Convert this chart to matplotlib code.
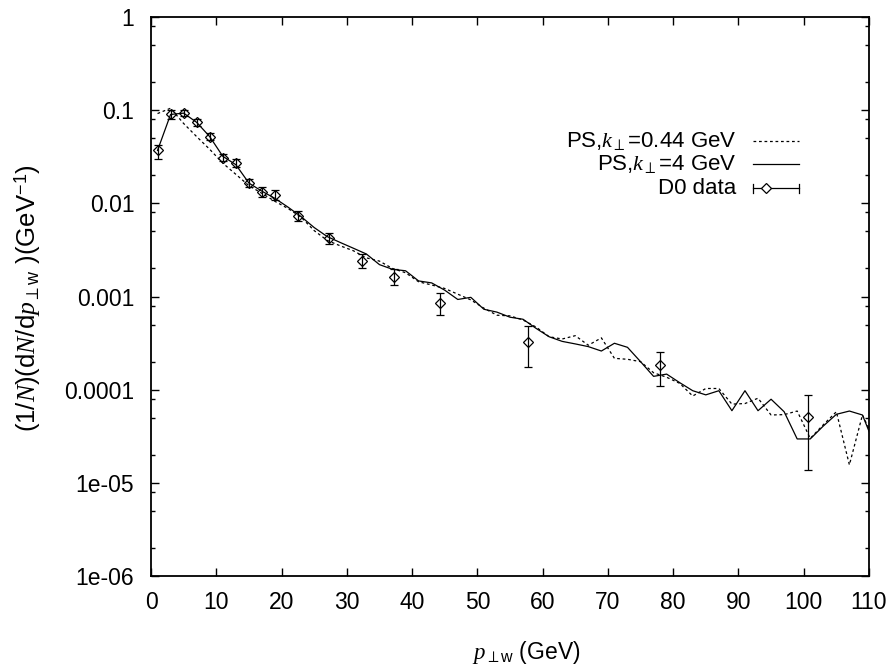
"""
W transverse momentum spectrum: parton shower predictions for two
values of the intrinsic k_perp compared with D0 data.
"""
import matplotlib
matplotlib.use('Agg')
import matplotlib.pyplot as plt
from matplotlib.ticker import LogLocator, NullFormatter
import numpy as np

plt.rcParams['font.family'] = ['Liberation Sans', 'DejaVu Sans']
plt.rcParams['mathtext.fontset'] = 'custom'
plt.rcParams['mathtext.rm'] = 'Liberation Sans'
plt.rcParams['mathtext.it'] = 'Liberation Serif:italic'
plt.rcParams['mathtext.fallback'] = 'cm'

# bin centres of the shower histograms (2 GeV bins)
pt_ps = np.arange(1, 112, 2)

# PS, k_perp = 4 GeV (solid)
ps_kt4 = [0.037, 0.090, 0.093, 0.074, 0.052, 0.032, 0.026, 0.0165, 0.0135, 0.0113,
          0.0091, 0.0072, 0.0055, 0.0044, 0.0038, 0.0033, 0.00286, 0.0022, 0.00196, 0.00189,
          0.00147, 0.0014, 0.00117, 0.00093, 0.00098, 0.00073, 0.00068, 0.0006, 0.00057, 0.000455,
          0.00037, 0.00033, 0.00031, 0.00029, 0.00026, 0.000315, 0.000285, 0.0002, 0.000139, 0.000147,
          0.000119, 9.75e-5, 8.8e-5, 9.75e-5, 5.95e-5, 9.75e-5, 5.95e-5, 7.9e-5, 5.8e-5, 2.96e-5,
          2.96e-5, 4.07e-5, 5.44e-5, 5.9e-5, 5.35e-5, 2.4e-5]

# PS, k_perp = 0.44 GeV (dotted)
ps_kt044 = [0.092, 0.105, 0.072, 0.052, 0.038, 0.027, 0.0205, 0.0155, 0.0128, 0.0105,
            0.0088, 0.0071, 0.0051, 0.0040, 0.0035, 0.0031, 0.0026, 0.0024, 0.0020, 0.0018,
            0.00144, 0.00133, 0.00122, 0.00106, 0.00092, 0.00075, 0.00063, 0.00062, 0.00056, 0.00047,
            0.00037, 0.00035, 0.00038, 0.00030, 0.00036, 0.000217, 0.000212, 0.0002, 0.000152, 0.000136,
            0.000117, 8.55e-5, 0.000103, 0.000103, 7.0e-5, 7.1e-5, 8.1e-5, 5.35e-5, 5.4e-5, 5.9e-5,
            3.0e-5, 4.2e-5, 5.8e-5, 1.56e-5, 5.35e-5, 2.7e-5]

# D0 data
pt_d0 = [1, 3, 5, 7, 9, 11, 13, 15, 17, 19, 22.5, 27.3, 32.3, 37.2, 44.2, 57.7, 78.0, 100.7]
d0 = [0.037, 0.090, 0.093, 0.074, 0.052, 0.031, 0.027, 0.0164, 0.0133, 0.0123,
      0.0073, 0.0042, 0.0024, 0.00163, 0.00086, 0.000327, 0.000183, 5.1e-5]
d0_lo = [0.030, 0.0805, 0.087, 0.0682, 0.0474, 0.0282, 0.0245, 0.0149, 0.0118, 0.0109,
         0.0065, 0.0037, 0.0020, 0.00132, 0.000634, 0.000174, 0.000109, 1.37e-5]
d0_hi = [0.0427, 0.1006, 0.0994, 0.0803, 0.057, 0.0341, 0.0298, 0.0181, 0.0150, 0.0139,
         0.0082, 0.0048, 0.00286, 0.00196, 0.00108, 0.000482, 0.000256, 8.8e-5]

ytick_vals = [1e-6, 1e-5, 1e-4, 1e-3, 1e-2, 1e-1, 1]
ytick_labels = ['1e-06', '1e-05', '0.0001', '0.001', '0.01', '0.1', '1']

fig = plt.figure(figsize=(8.93, 6.68), dpi=100)
ax = fig.add_axes([0.1691, 0.1377, 0.804, 0.8368])

ax.plot(pt_ps, ps_kt044, color='k', lw=0.9, ls=(0, (2.2, 2.2)))
ax.plot(pt_ps, ps_kt4, color='k', lw=0.9)
err = [np.array(d0) - np.array(d0_lo), np.array(d0_hi) - np.array(d0)]
ax.errorbar(pt_d0, d0, yerr=err, fmt='D', ms=5.5, mfc='none', mec='k', mew=0.9,
            ecolor='k', elinewidth=0.9, capsize=3, capthick=0.9)

ax.set_yscale('log')
ax.set_xlim(0, 110)
ax.set_ylim(1e-6, 1)
ax.set_xticks(range(0, 111, 10))
ax.set_yticks(ytick_vals, ytick_labels)
ax.yaxis.set_minor_locator(LogLocator(base=10, subs=[2, 5, 8]))
ax.yaxis.set_minor_formatter(NullFormatter())
ax.tick_params(which='both', direction='in', top=True, right=True, labelsize=16.5)
ax.tick_params(which='major', length=5.5, width=1)
ax.tick_params(which='minor', length=3, width=1)
ax.tick_params(axis='x', pad=11)
ax.tick_params(axis='y', pad=12)
for s in ax.spines.values():
    s.set_linewidth(1.3)

# gnuplot-style key: text right-aligned, sample to the right
key_rows = [r'PS,$k_{\perp}$=0.44 GeV', r'PS,$k_{\perp}$=4 GeV', 'D0 data']
key_y = [0.779, 0.737, 0.694]
tr = ax.transAxes
for label, yk in zip(key_rows, key_y):
    ax.text(0.815, yk, label, transform=tr, ha='right', va='center', fontsize=16)
ax.plot([0.838, 0.903], [key_y[0]] * 2, transform=tr, color='k', lw=0.9, ls=(0, (2.2, 2.2)))
ax.plot([0.838, 0.903], [key_y[1]] * 2, transform=tr, color='k', lw=0.9)
ax.plot([0.838, 0.903], [key_y[2]] * 2, transform=tr, color='k', lw=0.9)
ax.plot([0.838, 0.838], [key_y[2] - 0.008, key_y[2] + 0.008], transform=tr, color='k', lw=0.9)
ax.plot([0.903, 0.903], [key_y[2] - 0.008, key_y[2] + 0.008], transform=tr, color='k', lw=0.9)
ax.plot([0.857], [key_y[2]], transform=tr, marker='D', ms=5, mfc='white', mec='k', mew=0.9)

fig.text(526 / 893, 1 - 652 / 668, r'$p_{\perp\mathrm{w}}$ (GeV)', ha='center', va='center', fontsize=16.5)
fig.text(28 / 893, 1 - 298 / 668, r'(1/$N$)(d$N$/d$p_{\perp\mathrm{w}}$ )(GeV$^{-1}$)',
         ha='center', va='center', rotation=90, fontsize=18.5)

fig.savefig('out.png', dpi=100)
